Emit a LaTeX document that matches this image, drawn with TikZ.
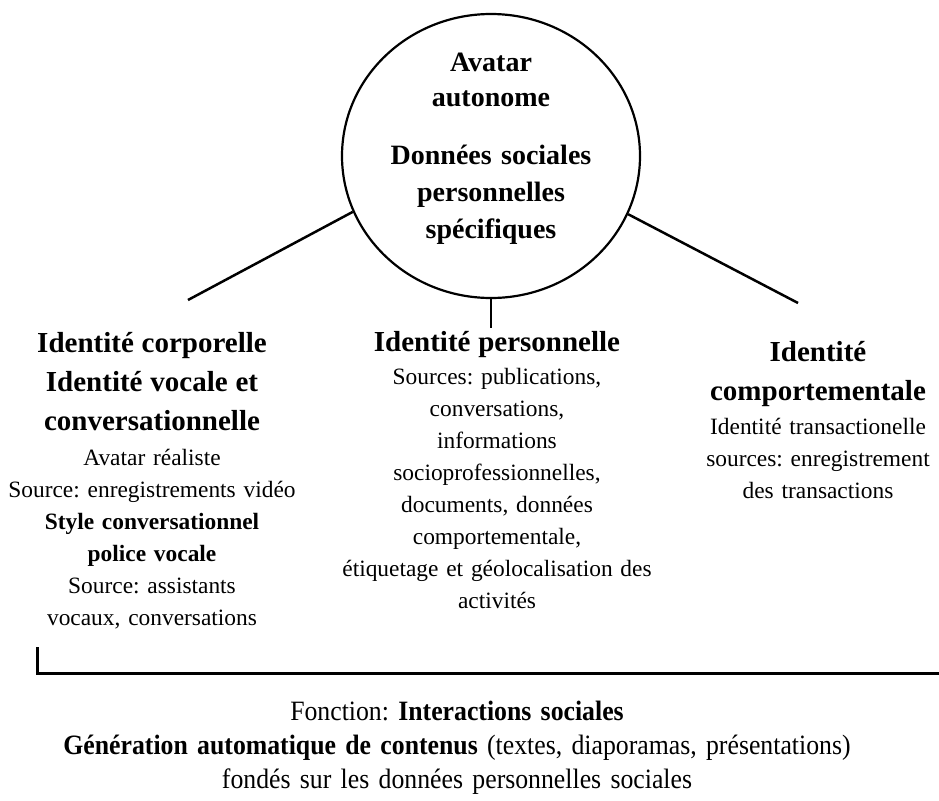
\documentclass[tikz,border=0pt]{standalone}
\usepackage{fontspec}
\setmainfont{Liberation Serif}
\newfontfamily\narrowserif{Liberation Serif}[FakeStretch=0.92]
\usetikzlibrary{shapes.geometric,positioning}

\newcommand{\idtitle}{\fontsize{29}{39}\selectfont\bfseries}

\begin{document}
\frenchspacing
\begin{tikzpicture}[x=1pt,y=-1pt,
 every node/.style={inner sep=0pt},
 avatarshape/.style={ellipse,draw,line width=2.2pt,minimum width=298pt,minimum height=284pt},
 idtext/.style={align=center,anchor=base,text width=320pt,font=\frenchspacing\fontsize{23.4}{32}\selectfont},
 link/.style={line width=2.5pt}]
 \useasboundingbox (0,0) rectangle (939,800);

 \node[avatarshape] (avatar) at (491,156) {};
 \node[idtext,font=\fontsize{28}{35}\selectfont\bfseries] (avatartxt) at (491,71)
 {Avatar\\autonome\par\vspace{21pt}{\fontsize{28}{37}\selectfont Données sociales\\personnelles\\spécifiques\par}};

 \node[idtext] (corporelle) at (152,352)
 {{\idtitle Identité corporelle\\Identité vocale et\\conversationnelle\par}\vspace{3pt}
 Avatar réaliste\\Source: enregistrements vidéo\\\textbf{Style conversationnel}\\\textbf{police vocale}\\Source: assistants\\vocaux, conversations};
 \node[idtext] (personnelle) at (497,351)
 {{\idtitle Identité personnelle\par}\vspace{1pt}
 Sources: publications,\\conversations,\\informations\\socioprofessionnelles,\\documents, données\\comportementale,\\étiquetage et géolocalisation des\\activités};
 \node[idtext] (comportementale) at (818,361)
 {{\idtitle Identité\\comportementale\par}\vspace{2pt}
 Identité transactionelle\\sources: enregistrement\\des transactions};

 \node[idtext,text width=939pt,font=\frenchspacing\narrowserif\fontsize{28}{34}\selectfont] (fonction) at (457,720)
 {Fonction: \textbf{Interactions sociales}\\\textbf{Génération automatique de contenus} (textes, diaporamas, présentations)\\fondés sur les données personnelles sociales};

 % connectors
 \coordinate (lfoot) at (188,300);
 \coordinate (rfoot) at (798,303);
 \coordinate (mfoot) at (491,328);
 \draw[link] (lfoot) -- (avatar.202);
 \draw[link] (rfoot) -- (avatar.337);
 \draw[link] (avatar.south) -- (mfoot);

 % bracket
 \coordinate (btop) at (37,647);
 \coordinate (bcorner) at (37,673);
 \coordinate (bend) at (940,673);
 \draw[line width=3pt] (btop) -- (bcorner) -- (bend);
\end{tikzpicture}
\end{document}
